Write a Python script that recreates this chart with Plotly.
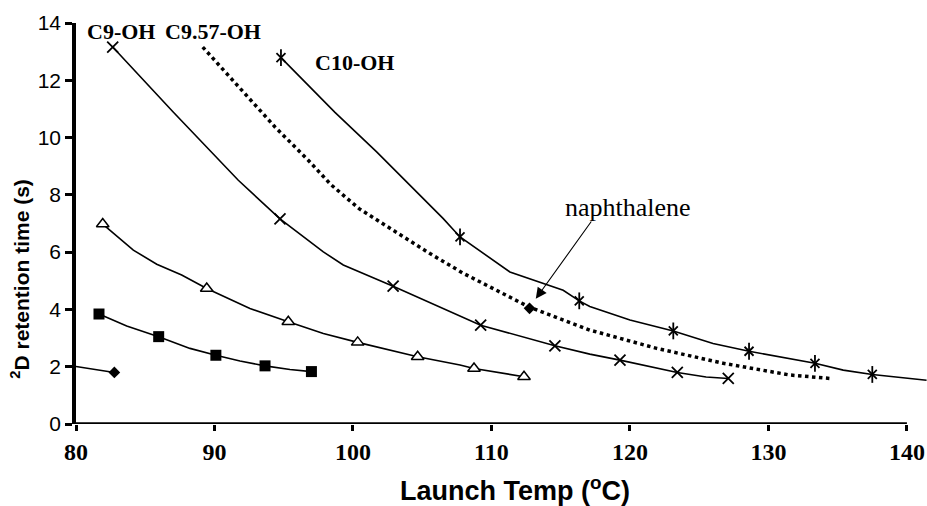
import plotly.graph_objects as go

# ---------------- data ----------------
# diamond series (lowest)
dia_x = [82.77]
dia_y = [1.80]
dia_curve_x = [80.0, 82.77]
dia_curve_y = [2.01, 1.80]

# filled squares
sq_x = [81.66, 85.97, 90.10, 93.65, 97.00]
sq_y = [3.84, 3.05, 2.40, 2.03, 1.83]
sq_curve_x = [81.66, 83.66, 85.97, 88.23, 90.10, 91.84, 93.65, 95.45, 97.00]
sq_curve_y = [3.84, 3.42, 3.05, 2.64, 2.40, 2.20, 2.03, 1.90, 1.83]

# open triangles
tri_x = [81.93, 89.44, 95.33, 100.34, 104.67, 108.74, 112.35]
tri_y = [6.98, 4.73, 3.57, 2.85, 2.35, 1.94, 1.65]
tri_curve_x = [81.93, 84.14, 85.83, 87.63, 89.44, 92.56, 95.33, 97.86, 100.34, 104.67, 107.73, 108.74, 112.35]
tri_curve_y = [6.98, 6.07, 5.58, 5.20, 4.73, 4.03, 3.57, 3.16, 2.85, 2.35, 2.06, 1.94, 1.65]

# C9-OH (x markers)
c9_x = [82.65, 94.73, 102.90, 109.22, 114.58, 119.28, 123.42, 127.10]
c9_y = [13.16, 7.16, 4.81, 3.45, 2.73, 2.23, 1.80, 1.59]
c9_curve_x = [82.65, 87.0, 91.72, 94.73, 97.86, 99.30, 102.90, 106.28, 109.22, 114.58, 117.10, 119.28, 123.42, 125.5, 127.10]
c9_curve_y = [13.16, 10.9, 8.51, 7.16, 6.01, 5.55, 4.81, 4.09, 3.45, 2.73, 2.44, 2.23, 1.80, 1.64, 1.59]

# C10-OH (asterisk markers)
c10_x = [94.80, 107.73, 116.34, 123.13, 128.60, 133.36, 137.50]
c10_y = [12.79, 6.53, 4.30, 3.25, 2.54, 2.12, 1.73]
c10_curve_x = [94.80, 98.70, 101.71, 106.52, 107.73, 111.33, 115.18, 116.34, 117.10, 120.00,
               123.13, 126.00, 128.60, 133.36, 135.40, 137.50, 141.42]
c10_curve_y = [12.79, 10.88, 9.50, 7.17, 6.53, 5.31, 4.67, 4.30, 4.10, 3.63,
               3.25, 2.81, 2.54, 2.12, 1.88, 1.73, 1.53]

# C9.57-OH (dotted, interpolated retention line)
c957_x = [89.15, 91.96, 94.37, 96.77, 98.40, 100.44, 102.85, 105.56, 107.97, 110.38,
          112.78, 117.10, 121.93, 126.74, 131.55, 134.44]
c957_y = [13.16, 11.65, 10.37, 9.21, 8.36, 7.52, 6.77, 5.95, 5.26, 4.67,
          4.07, 3.28, 2.64, 2.12, 1.71, 1.59]

# naphthalene point
naph_x = [112.75]
naph_y = [4.04]

x_ticks = [80, 90, 100, 110, 120, 130, 140]
y_ticks = [0, 2, 4, 6, 8, 10, 12, 14]

BLACK = "#000000"
LW = 1.6
SERIF = "Liberation Serif, Times New Roman, serif"
SANS = "Liberation Sans, Arial, sans-serif"

fig = go.Figure()


def curve(x, y, dash="solid", width=LW):
    fig.add_trace(go.Scatter(x=x, y=y, mode="lines", line=dict(color=BLACK, width=width, dash=dash),
                             hoverinfo="skip", showlegend=False))


def marks(x, y, **mk):
    fig.add_trace(go.Scatter(x=x, y=y, mode="markers", marker=mk, showlegend=False))


curve(dia_curve_x, dia_curve_y)
curve(sq_curve_x, sq_curve_y)
curve(tri_curve_x, tri_curve_y)
curve(c9_curve_x, c9_curve_y)
curve(c10_curve_x, c10_curve_y)
curve(c957_x, c957_y, dash="dot", width=3.5)

marks(dia_x, dia_y, symbol="diamond", size=9, color=BLACK, line=dict(width=0))
marks(sq_x, sq_y, symbol="square", size=11, color=BLACK, line=dict(width=0))
marks(tri_x, tri_y, symbol="triangle-up", size=11, color="white", line=dict(color=BLACK, width=1.5))
marks(c9_x, c9_y, symbol="x-thin-open", size=11, color=BLACK, line=dict(color=BLACK, width=1.8))
marks(c10_x, c10_y, symbol="x-thin-open", size=9, color=BLACK, line=dict(color=BLACK, width=1.8))
marks(c10_x, c10_y, symbol="line-ns-open", size=12, color=BLACK, line=dict(color=BLACK, width=1.8))
marks(naph_x, naph_y, symbol="diamond", size=9, color=BLACK, line=dict(width=0))

# x axis line drawn only up to 140 (curves run beyond it)
fig.add_shape(type="line", xref="x", yref="y", x0=x_ticks[0], x1=x_ticks[-1], y0=0, y1=0,
              line=dict(color=BLACK, width=3.5), layer="above")

fig.update_layout(
    width=927, height=506,
    margin=dict(l=76, r=0, t=23, b=82),
    paper_bgcolor="white", plot_bgcolor="white",
    showlegend=False,
    xaxis=dict(range=[80, 141.45], tickvals=x_ticks, ticktext=[str(v) for v in x_ticks],
               showgrid=False, zeroline=False, showline=False,
               ticks="outside", ticklen=6, tickwidth=2.5, tickcolor=BLACK,
               tickfont=dict(family=SERIF, size=24, color=BLACK, weight="bold")),
    yaxis=dict(range=[0, 14], tickvals=y_ticks, showgrid=False, zeroline=False,
               showline=True, linecolor=BLACK, linewidth=3.5,
               ticks="outside", ticklen=7, tickwidth=2.5, tickcolor=BLACK,
               tickfont=dict(family=SANS, size=21, color=BLACK)),
)

ann = [
    dict(text="<b>C9-OH</b>", x=80.65, y=13.71, xanchor="left", yanchor="middle",
         font=dict(family=SERIF, size=22)),
    dict(text="<b>C9.57-OH</b>", x=86.30, y=13.71, xanchor="left", yanchor="middle",
         font=dict(family=SERIF, size=22)),
    dict(text="<b>C10-OH</b>", x=97.13, y=12.63, xanchor="left", yanchor="middle",
         font=dict(family=SERIF, size=22)),
    dict(text="naphthalene", x=115.18, y=7.57, xanchor="left", yanchor="middle",
         font=dict(family=SERIF, size=26)),
    dict(text="<b>Launch Temp (<sup>o</sup>C)</b>", xref="paper", yref="paper", x=0.516, y=-0.161,
         xanchor="center", yanchor="middle",
         font=dict(family=SANS, size=27)),
    dict(text="<b><sup>2</sup>D retention time (s)</b>", xref="paper", yref="paper", x=-0.066, y=0.362,
         xanchor="center", yanchor="middle", textangle=-90,
         font=dict(family=SANS, size=21)),
]
for a in ann:
    a.setdefault("xref", "x")
    a.setdefault("yref", "y")
    a["showarrow"] = False
    a["font"]["color"] = BLACK
    fig.add_annotation(**a)

# arrow pointing at naphthalene
fig.add_annotation(x=naph_x[0] + 0.45, y=naph_y[0] + 0.33, xref="x", yref="y", text=" ",
                   font=dict(size=1, color=BLACK), borderpad=0,
                   showarrow=True, arrowhead=2, arrowsize=2, arrowwidth=1.1, arrowcolor=BLACK,
                   ax=56, ay=-78, standoff=0)

# remove the page's default body margin so the 927x506 figure fills the window exactly
fig.write_html("out.html", config={"displayModeBar": False},
               post_script="document.body.style.margin='0';document.body.style.overflow='hidden';")
